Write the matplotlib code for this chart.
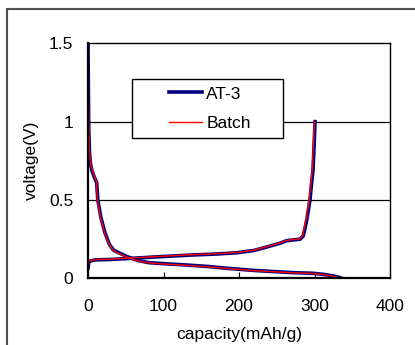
import matplotlib.pyplot as plt
from matplotlib.patches import Rectangle

plt.rcParams['font.family'] = ['Liberation Sans', 'DejaVu Sans']

# discharge (lithiation) curve, AT-3
at3_dis_cap = [0, 0.5, 1, 2, 3, 5, 8, 11.5, 13, 17, 22.5, 28, 33.6, 40, 51, 65, 80, 95,
               130, 160, 184, 220, 250, 272, 298, 312, 325, 332, 336]
at3_dis_v = [1.5, 1.2, 0.95, 0.8, 0.74, 0.69, 0.65, 0.61, 0.5, 0.39, 0.29, 0.22, 0.18, 0.165,
             0.14, 0.115, 0.1, 0.095, 0.085, 0.075, 0.064, 0.05, 0.042, 0.036, 0.032, 0.025,
             0.015, 0.007, 0.0]
# charge (delithiation) curve, AT-3
at3_chg_cap = [0, 1, 2.6, 10, 29, 60, 95, 139, 170, 197, 220, 237, 255, 263, 272, 281, 285,
               287, 290, 294, 296, 298, 299.5, 300.7]
at3_chg_v = [0.064, 0.1, 0.11, 0.118, 0.12, 0.128, 0.138, 0.149, 0.155, 0.163, 0.178, 0.2,
             0.225, 0.24, 0.245, 0.25, 0.27, 0.31, 0.38, 0.5, 0.6, 0.69, 0.85, 1.0]

# Batch curves
batch_dis_cap = [0, 0.5, 1, 2, 3, 5, 8, 11, 12.5, 16.5, 22, 27.5, 33, 39, 50, 64, 79, 94,
                 129, 159, 183, 219, 249, 271, 297, 311, 324, 331, 335]
batch_dis_v = [1.5, 1.22, 0.97, 0.81, 0.75, 0.7, 0.66, 0.62, 0.5, 0.39, 0.29, 0.22, 0.18,
               0.163, 0.138, 0.113, 0.099, 0.093, 0.083, 0.073, 0.063, 0.049, 0.041, 0.035,
               0.031, 0.024, 0.014, 0.006, 0.0]
batch_chg_cap = [0, 1, 2.6, 10, 29, 60, 95, 139, 170, 197, 220, 237, 255, 263, 272, 280, 284,
                 286, 289, 293, 295, 297, 298.5, 299.7]
batch_chg_v = [0.07, 0.1, 0.112, 0.12, 0.122, 0.13, 0.14, 0.151, 0.157, 0.165, 0.18, 0.202,
               0.227, 0.242, 0.247, 0.252, 0.272, 0.312, 0.38, 0.5, 0.6, 0.69, 0.85, 1.0]

FS = 12.5

fig = plt.figure(figsize=(4.15, 3.45), dpi=100)
fig.patches.append(Rectangle((7 / 415, -0.1), 1.2, 1 - 9 / 345 + 0.1, transform=fig.transFigure,
                             fill=False, edgecolor='#505050', linewidth=1.5))
ax = fig.add_axes([88 / 415, 1 - 278.3 / 345, 302 / 415, 235 / 345])

for y in [0.5, 1.0]:
    ax.axhline(y, color='black', linewidth=0.9, zorder=0)

ax.plot(at3_dis_cap, at3_dis_v, color='#000080', linewidth=2.6, label='AT-3')
ax.plot(at3_chg_cap, at3_chg_v, color='#000080', linewidth=2.6)
ax.plot(batch_dis_cap, batch_dis_v, color='red', linewidth=1.0, label='Batch')
ax.plot(batch_chg_cap, batch_chg_v, color='red', linewidth=1.0)

ax.set_xlim(0, 400)
ax.set_ylim(0, 1.5)
ax.set_xticks([0, 100, 200, 300, 400])
ax.set_yticks([0, 0.5, 1, 1.5])
ax.set_yticklabels(['0', '0.5', '1', '1.5'])
ax.tick_params(axis='x', direction='in', length=4, pad=15, labelsize=FS)
ax.tick_params(axis='y', length=0, pad=10.5, labelsize=FS)
for s in ax.spines.values():
    s.set_color('black')
    s.set_linewidth(1.0)
ax.spines['bottom'].set_linewidth(1.6)
ax.spines['left'].set_linewidth(1.6)

ax.set_xlabel('capacity(mAh/g)', fontsize=FS, labelpad=9)
ax.set_ylabel('voltage(V)', fontsize=FS, labelpad=7)

# legend box drawn separately (wide horizontal padding)
ax.add_patch(Rectangle(((132 - 88) / 302, (278.3 - 138) / 235), 151 / 302, 59 / 235,
                       transform=ax.transAxes, facecolor='white', edgecolor='black',
                       linewidth=1.0, zorder=3))
leg = ax.legend(loc='center', bbox_to_anchor=((210 - 88) / 302, (278.3 - 108.5) / 235),
                fontsize=FS, frameon=False, handlelength=1.9, handletextpad=0.25,
                labelspacing=0.8, borderpad=0)
leg.set_zorder(4)

fig.savefig('out.png', dpi=100)
